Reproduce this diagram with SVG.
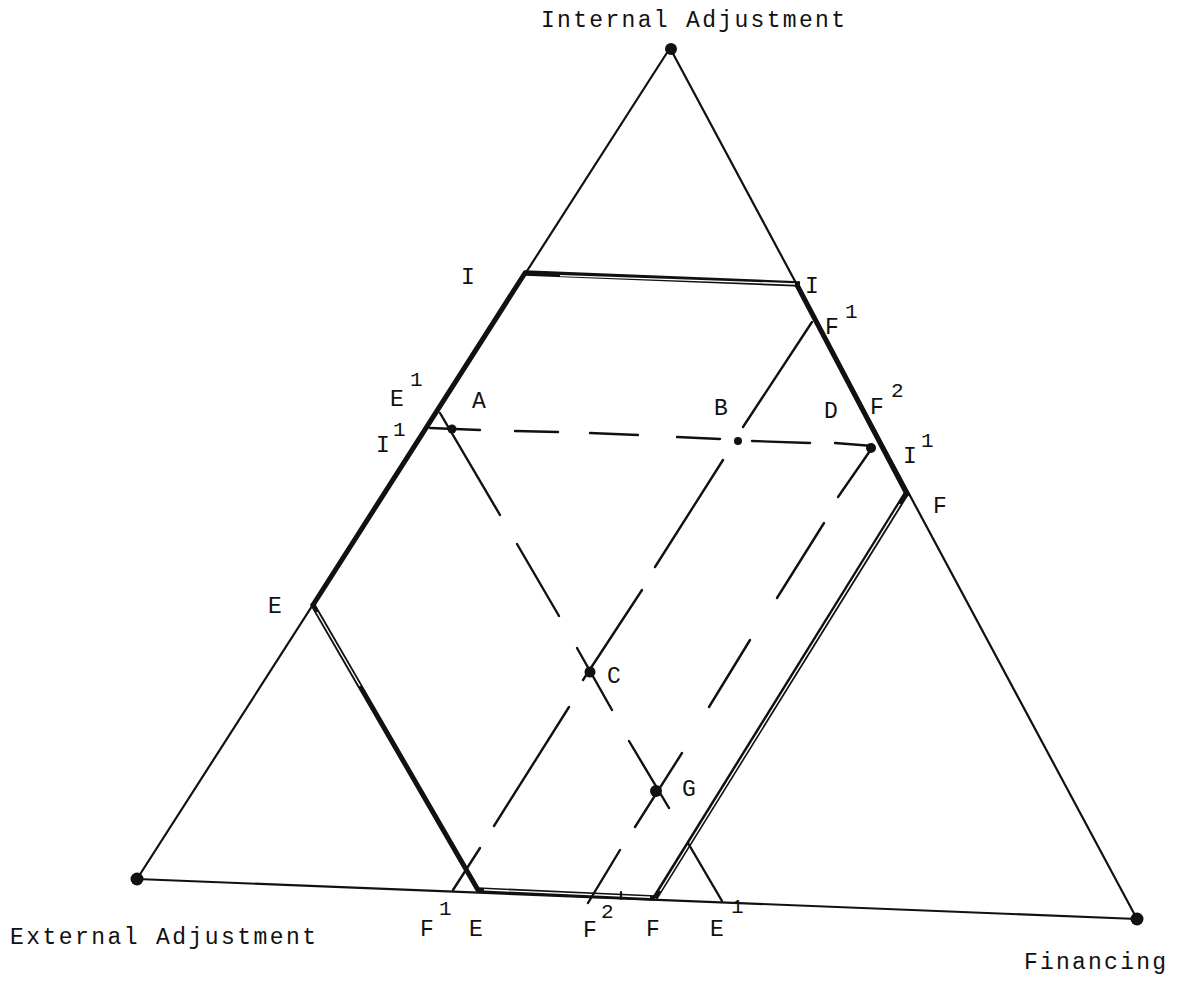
<svg xmlns="http://www.w3.org/2000/svg" width="1187" height="985" viewBox="0 0 1187 985">
<style>
.t{font-family:"Liberation Mono","DejaVu Sans Mono",monospace;font-size:23px;fill:#111}
.s{font-family:"Liberation Mono","DejaVu Sans Mono",monospace;font-size:21px;fill:#111}
.thin{stroke:#111;stroke-width:2.2;fill:none;stroke-linecap:round}
.thick{stroke:#111;stroke-width:5;fill:none;stroke-linecap:round}
.dbl{stroke:#111;stroke-width:5.5;fill:none}
.dblin{stroke:#fff;stroke-width:1.4;fill:none}
.dash{stroke:#111;stroke-width:2.4;fill:none;stroke-linecap:round}
</style>
<rect width="1187" height="985" fill="#fff"/>
<g id="connectors">
  <g id="triangle">
    <line class="thin" x1="670" y1="48" x2="137" y2="879"/>
    <line class="thin" x1="670" y1="48" x2="1137" y2="919"/>
    <line class="thin" x1="137" y1="879" x2="1137" y2="919"/>
  </g>
  <g id="thick-sides">
    <line class="thick" x1="525" y1="273" x2="313" y2="605"/>
    <line class="thick" x1="797" y1="285" x2="907" y2="494"/>
  </g>
  <g id="I-I">
    <line class="dbl" x1="525" y1="273" x2="800" y2="284"/>
    <line class="dblin" x1="560" y1="275.6" x2="795" y2="284"/>
  </g>
  <g id="E-E">
    <line class="thick" x1="313" y1="605" x2="478" y2="890"/>
    <line class="dblin" x1="317" y1="612" x2="360" y2="686"/>
  </g>
  <g id="F-F">
    <line class="dbl" x1="906" y1="494" x2="655" y2="898"/>
    <line class="dblin" x1="900" y1="504" x2="660" y2="891"/>
  </g>
  <g id="E-F-bottom">
    <line class="dbl" x1="478" y1="890" x2="655" y2="898"/>
    <line class="dblin" x1="484" y1="889.8" x2="650" y2="897.3"/>
    <line class="thin" x1="621" y1="892" x2="621" y2="899"/>
  </g>
  <g id="E1-line">
    <line class="dash" x1="440" y1="413" x2="500" y2="515"/>
    <line class="dash" x1="517" y1="544" x2="559" y2="616"/>
    <line class="dash" x1="577" y1="648" x2="612" y2="710"/>
    <line class="dash" x1="629" y1="741" x2="669" y2="808"/>
    <line class="dash" x1="688" y1="843" x2="722" y2="901"/>
  </g>
  <g id="F1-line">
    <line class="dash" x1="812" y1="322" x2="743" y2="427"/>
    <line class="dash" x1="723" y1="460" x2="655" y2="567"/>
    <line class="dash" x1="642" y1="590" x2="583" y2="680"/>
    <line class="dash" x1="569" y1="707" x2="494" y2="826"/>
    <line class="dash" x1="480" y1="848" x2="453" y2="890"/>
  </g>
  <g id="F2-line">
    <line class="dash" x1="872" y1="448" x2="838" y2="497"/>
    <line class="dash" x1="824" y1="523" x2="777" y2="598"/>
    <line class="dash" x1="750" y1="640" x2="709" y2="707"/>
    <line class="dash" x1="682" y1="753" x2="635" y2="827"/>
    <line class="dash" x1="620" y1="850" x2="588" y2="903"/>
  </g>
  <g id="I1-line">
    <line class="dash" x1="430" y1="428" x2="480" y2="430"/>
    <line class="dash" x1="515" y1="431" x2="558" y2="432"/>
    <line class="dash" x1="590" y1="433" x2="638" y2="435"/>
    <line class="dash" x1="677" y1="437" x2="720" y2="439"/>
    <line class="dash" x1="752" y1="441" x2="810" y2="443"/>
    <line class="dash" x1="835" y1="443" x2="873" y2="446"/>
  </g>
</g>
<g id="internal-adjustment">
  <circle cx="671" cy="49" r="6" fill="#111"/>
  <text class="t" x="541" y="27" textLength="304" lengthAdjust="spacing">Internal Adjustment</text>
</g>
<g id="external-adjustment">
  <circle cx="137" cy="879" r="6.5" fill="#111"/>
  <text class="t" x="10" y="944" textLength="306" lengthAdjust="spacing">External Adjustment</text>
</g>
<g id="financing">
  <circle cx="1137" cy="919" r="6.5" fill="#111"/>
  <text class="t" x="1024" y="969" textLength="142" lengthAdjust="spacing">Financing</text>
</g>
<g id="point-A">
  <circle cx="452" cy="429" r="4.5" fill="#111"/>
  <text class="t" x="472" y="408">A</text>
</g>
<g id="point-B">
  <circle cx="738" cy="441" r="4" fill="#111"/>
  <text class="t" x="714" y="415">B</text>
</g>
<g id="point-D">
  <circle cx="871" cy="448" r="5" fill="#111"/>
  <text class="t" x="824" y="418">D</text>
</g>
<g id="point-C">
  <circle cx="590" cy="672" r="5.5" fill="#111"/>
  <text class="t" x="607" y="683">C</text>
</g>
<g id="point-G">
  <circle cx="656" cy="791" r="6" fill="#111"/>
  <text class="t" x="682" y="796">G</text>
</g>
<g id="labels">
  <text class="t" x="461" y="284">I</text>
  <text class="t" x="805" y="293">I</text>
  <text class="t" x="825" y="334">F</text><text class="s" x="845" y="318">1</text>
  <text class="t" x="390" y="406">E</text><text class="s" x="410" y="386">1</text>
  <text class="t" x="376" y="452">I</text><text class="s" x="393" y="436">1</text>
  <text class="t" x="870" y="414">F</text><text class="s" x="891" y="397">2</text>
  <text class="t" x="903" y="463">I</text><text class="s" x="921" y="447">1</text>
  <text class="t" x="933" y="513">F</text>
  <text class="t" x="268" y="613">E</text>
  <text class="t" x="420" y="936">F</text><text class="s" x="439" y="915">1</text>
  <text class="t" x="469" y="936">E</text>
  <text class="t" x="583" y="937">F</text><text class="s" x="601" y="918">2</text>
  <text class="t" x="646" y="936">F</text>
  <text class="t" x="710" y="936">E</text><text class="s" x="731" y="913">1</text>
</g>
</svg>
